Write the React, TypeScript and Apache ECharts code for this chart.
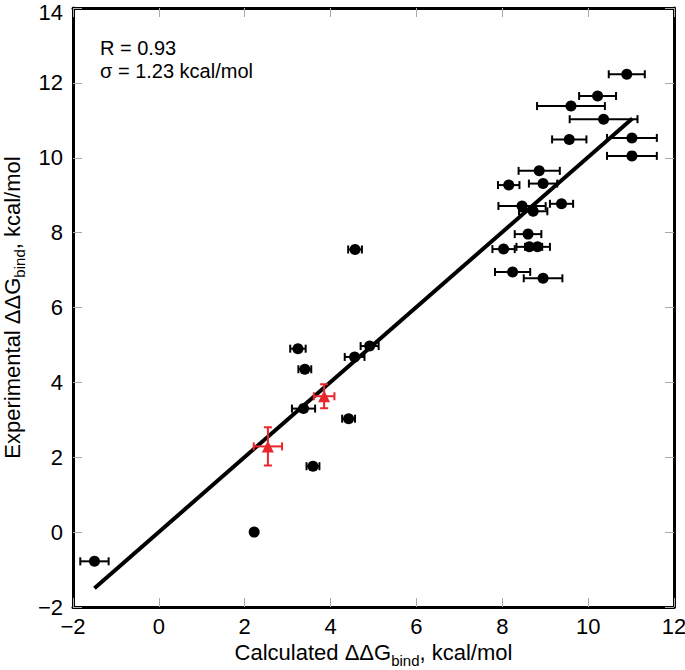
import React, { useEffect, useRef } from "react";
import * as echarts from "echarts";

// Black points: calculated (x), experimental (y), horizontal error (x)
const calcX = [10.9, 10.22, 9.6, 10.36, 9.56, 11.02, 11.02, 8.86, 8.15, 8.95, 8.46, 8.72, 9.38, 8.6, 8.03, 8.63, 8.82, 8.24, 8.95, 4.57, 3.24, 3.4, 4.91, 4.56, 3.37, 4.42, 3.59, 2.22, -1.5];
const expY = [12.23, 11.65, 11.38, 11.03, 10.49, 10.53, 10.05, 9.65, 9.27, 9.31, 8.71, 8.57, 8.77, 7.96, 7.56, 7.62, 7.62, 6.95, 6.78, 7.55, 4.9, 4.35, 4.97, 4.68, 3.3, 3.03, 1.76, 0.0, -0.78];
const xErr = [0.42, 0.43, 0.79, 0.79, 0.4, 0.58, 0.58, 0.48, 0.25, 0.33, 0.55, 0.33, 0.27, 0.31, 0.26, 0.3, 0.29, 0.41, 0.45, 0.16, 0.18, 0.15, 0.21, 0.23, 0.27, 0.15, 0.15, 0, 0.33];

// Red points with x and y errors
const redCalcX = [3.85, 2.54];
const redExpY = [3.63, 2.29];
const redXErr = [0.24, 0.33];
const redYErr = [0.32, 0.51];

// Fit line end points
const fitX = [-1.5, 11.03];
const fitY = [-1.5, 11.05];

const xMin = -2, xMax = 12, yMin = -2, yMax = 14, tickStep = 2;

const annotations = ["R = 0.93", "\u03c3 = 1.23 kcal/mol"];

const FONT = "'Liberation Sans', Arial, Helvetica, sans-serif";
const RED = "#e8262b";

const fmt = (v: number) => String(v).replace("-", "\u2212");

const titleRich = {
  a: { fontSize: 22, fontFamily: FONT, color: "#000", lineHeight: 24, verticalAlign: "top" as const },
  s: { fontSize: 15, fontFamily: FONT, color: "#000", lineHeight: 26, verticalAlign: "bottom" as const },
};

export default function App() {
  const ref = useRef<HTMLDivElement>(null);
  useEffect(() => {
    if (!ref.current) return;
    const chart = echarts.init(ref.current, null, { renderer: "svg" });

    const blackData = calcX.map((x, i) => [x, expY[i], xErr[i], 0]);
    const redData = redCalcX.map((x, i) => [x, redExpY[i], redXErr[i], redYErr[i]]);

    const errRender = (color: string) => (params: any, api: any) => {
      const x = api.value(0), y = api.value(1), ex = api.value(2), ey = api.value(3);
      const children: any[] = [];
      const st = { stroke: color, lineWidth: 2 };
      const cap = 4;
      if (ex > 0) {
        const l = api.coord([x - ex, y]);
        const r = api.coord([x + ex, y]);
        children.push({ type: "line", shape: { x1: l[0], y1: l[1], x2: r[0], y2: r[1] }, style: st });
        children.push({ type: "line", shape: { x1: l[0], y1: l[1] - cap, x2: l[0], y2: l[1] + cap }, style: st });
        children.push({ type: "line", shape: { x1: r[0], y1: r[1] - cap, x2: r[0], y2: r[1] + cap }, style: st });
      }
      if (ey > 0) {
        const b = api.coord([x, y - ey]);
        const t = api.coord([x, y + ey]);
        children.push({ type: "line", shape: { x1: b[0], y1: b[1], x2: t[0], y2: t[1] }, style: st });
        children.push({ type: "line", shape: { x1: b[0] - cap, y1: b[1], x2: b[0] + cap, y2: b[1] }, style: st });
        children.push({ type: "line", shape: { x1: t[0] - cap, y1: t[1], x2: t[0] + cap, y2: t[1] }, style: st });
      }
      return { type: "group", children };
    };

    const frameAxisCommon = {
      type: "value" as const,
      axisLine: { show: true, onZero: false, lineStyle: { color: "#000", width: 3 } },
      axisTick: { show: true, inside: true, length: 9, lineStyle: { color: "#aaa", width: 1 } },
      splitLine: { show: false },
    };

    chart.setOption({
      animation: false,
      grid: { left: 73, right: 11, top: 8, bottom: 63, containLabel: false, outerBoundsMode: "none" },
      xAxis: [
        {
          ...frameAxisCommon,
          min: xMin, max: xMax, interval: tickStep, position: "bottom",
          axisLabel: { fontSize: 22, fontFamily: FONT, color: "#000", margin: 8, formatter: fmt },
          name: "{a|Calculated \u0394\u0394G}{s|bind}{a|, kcal/mol}",
          nameLocation: "middle",
          nameGap: 34,
          nameTextStyle: { rich: titleRich },
        },
        {
          ...frameAxisCommon,
          min: xMin, max: xMax, interval: tickStep, position: "top",
          axisLabel: { show: false },
        },
      ],
      yAxis: [
        {
          ...frameAxisCommon,
          min: yMin, max: yMax, interval: tickStep, position: "left",
          axisLabel: {
            fontSize: 22, fontFamily: FONT, color: "#000", margin: 10,
            formatter: (v: number) => (v === yMax ? `{top|${fmt(v)}}` : fmt(v)),
            rich: { top: { fontSize: 22, fontFamily: FONT, color: "#000", padding: [8, 0, 0, 0] } },
          },
          name: "{a|Experimental \u0394\u0394G}{s|bind}{a|, kcal/mol}",
          nameLocation: "middle",
          nameGap: 44,
          nameTextStyle: { rich: titleRich },
        },
        {
          ...frameAxisCommon,
          min: yMin, max: yMax, interval: tickStep, position: "right",
          axisLabel: { show: false },
        },
      ],
      graphic: annotations.map((t, i) => ({
        type: "text",
        x: 100,
        y: 48 + i * 23,
        style: { text: t, fontSize: 20, fontFamily: FONT, fill: "#000", align: "left", verticalAlign: "middle" },
      })),
      series: [
        {
          type: "custom",
          renderItem: errRender("#000"),
          data: blackData,
          encode: { x: 0, y: 1 },
          z: 2,
          silent: true,
        },
        {
          type: "line",
          data: fitX.map((x, i) => [x, fitY[i]]),
          symbol: "none",
          lineStyle: { color: "#000", width: 4 },
          z: 3,
          silent: true,
        },
        {
          type: "scatter",
          data: calcX.map((x, i) => [x, expY[i]]),
          symbol: "circle",
          symbolSize: 11,
          itemStyle: { color: "#000", opacity: 1 },
          z: 4,
        },
        {
          type: "custom",
          renderItem: errRender(RED),
          data: redData,
          encode: { x: 0, y: 1 },
          z: 5,
          silent: true,
        },
        {
          type: "scatter",
          data: redCalcX.map((x, i) => [x, redExpY[i]]),
          symbol: "triangle",
          symbolSize: 12,
          itemStyle: { color: RED, opacity: 1 },
          z: 6,
        },
      ],
    });
    return () => chart.dispose();
  }, []);
  return <div ref={ref} style={{ position: "absolute", left: 0, top: 0, width: 685, height: 670 }} />;
}
